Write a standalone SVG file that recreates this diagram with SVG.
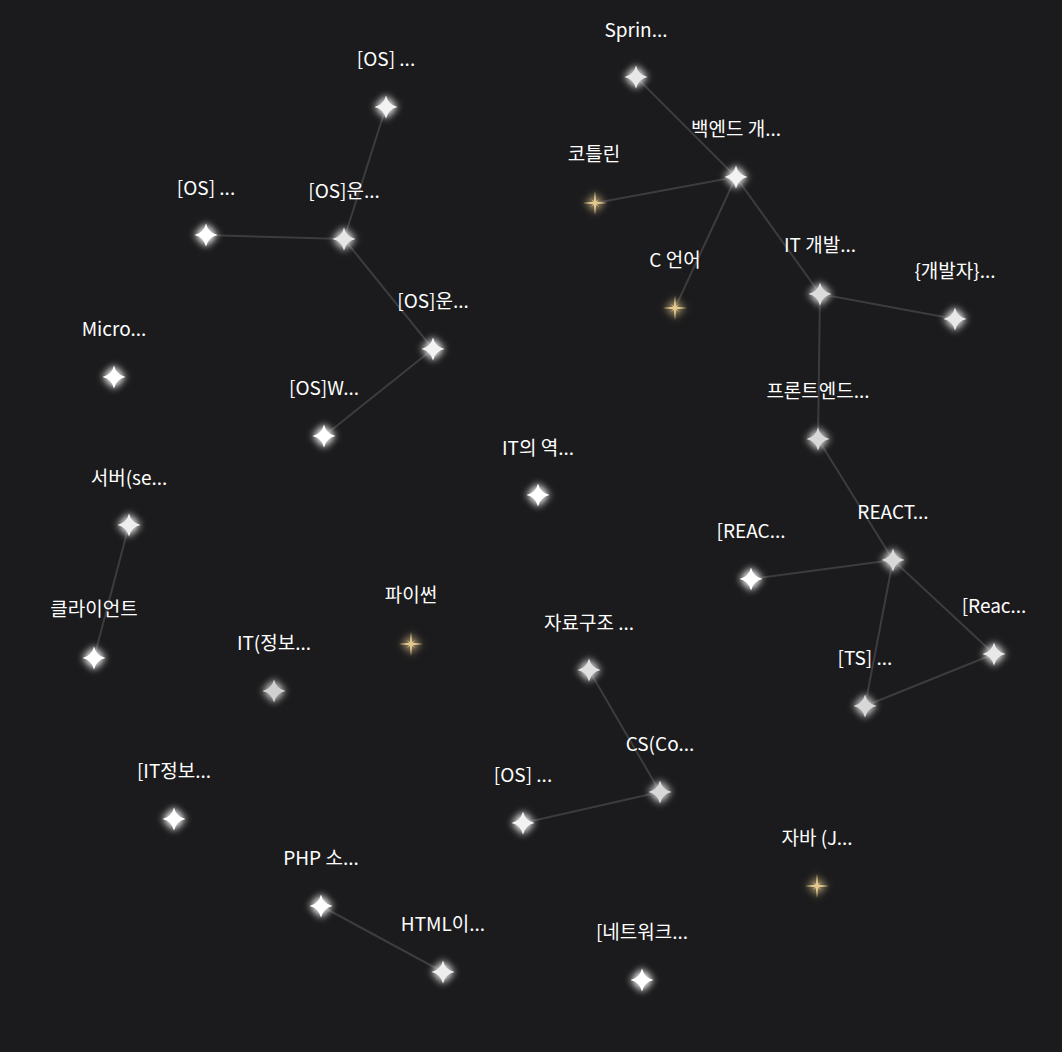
<svg xmlns="http://www.w3.org/2000/svg" width="1062" height="1052" viewBox="0 0 1062 1052">
<style>
.lbl{font-family:"Noto Sans CJK KR","Noto Sans",sans-serif;font-size:19px;fill:#ffffff;text-anchor:middle}
.edge{stroke:#3c3c3e;stroke-width:2;fill:none}
</style>
<defs>
<filter id="glow" x="-150%" y="-150%" width="400%" height="400%">
<feGaussianBlur in="SourceGraphic" stdDeviation="4.5" result="b"/>
<feMerge><feMergeNode in="b"/><feMergeNode in="b"/><feMergeNode in="SourceGraphic"/></feMerge>
</filter>
<filter id="gglow" x="-150%" y="-150%" width="400%" height="400%">
<feGaussianBlur in="SourceGraphic" stdDeviation="4" result="b"/>
<feMerge><feMergeNode in="b"/><feMergeNode in="b"/><feMergeNode in="SourceGraphic"/></feMerge>
</filter>
<path id="star" d="M0,-11.5 Q2.3,-2.3 11.5,0 Q2.3,2.3 0,11.5 Q-2.3,2.3 -11.5,0 Q-2.3,-2.3 0,-11.5 Z"/>
<path id="gstar" d="M0,-12 L1.2,-1.8 L4,-4 L1.8,-1.2 L12,0 L1.8,1.2 L4,4 L1.2,1.8 L0,12 L-1.2,1.8 L-4,4 L-1.8,1.2 L-12,0 L-1.8,-1.2 L-4,-4 L-1.2,-1.8 Z"/>
</defs>
<rect width="1062" height="1052" fill="#1b1b1d"/>
<g id="connectors">
<line class="edge" x1="636" y1="77" x2="736" y2="177"/>
<line class="edge" x1="736" y1="177" x2="595" y2="203"/>
<line class="edge" x1="736" y1="177" x2="675" y2="308"/>
<line class="edge" x1="736" y1="177" x2="820" y2="294"/>
<line class="edge" x1="820" y1="294" x2="955" y2="319"/>
<line class="edge" x1="820" y1="294" x2="818" y2="439"/>
<line class="edge" x1="818" y1="439" x2="893" y2="560"/>
<line class="edge" x1="893" y1="560" x2="751" y2="579"/>
<line class="edge" x1="893" y1="560" x2="994" y2="654"/>
<line class="edge" x1="893" y1="560" x2="865" y2="706"/>
<line class="edge" x1="865" y1="706" x2="994" y2="654"/>
<line class="edge" x1="386" y1="107" x2="344" y2="239"/>
<line class="edge" x1="206" y1="235" x2="344" y2="239"/>
<line class="edge" x1="344" y1="239" x2="433" y2="349"/>
<line class="edge" x1="433" y1="349" x2="324" y2="436"/>
<line class="edge" x1="129" y1="525" x2="94" y2="658"/>
<line class="edge" x1="589" y1="670" x2="660" y2="792"/>
<line class="edge" x1="660" y1="792" x2="523" y2="823"/>
<line class="edge" x1="321" y1="906" x2="443" y2="972"/>
</g>
<g id="n-spring"><use href="#star" x="636" y="77" fill="#e8e8e8" filter="url(#glow)"/><text class="lbl" x="636" y="37">Sprin...</text></g>
<g id="n-backend"><use href="#star" x="736" y="177" fill="#f2f2f2" filter="url(#glow)"/><text class="lbl" x="736" y="136">백엔드 개...</text></g>
<g id="n-kotlin"><use href="#gstar" x="595" y="203" fill="#e3c98f" filter="url(#gglow)"/><text class="lbl" x="594" y="161">코틀린</text></g>
<g id="n-c"><use href="#gstar" x="675" y="308" fill="#e3c98f" filter="url(#gglow)"/><text class="lbl" x="675" y="267">C 언어</text></g>
<g id="n-itdev"><use href="#star" x="820" y="294" fill="#dcdcdc" filter="url(#glow)"/><text class="lbl" x="820" y="252">IT 개발...</text></g>
<g id="n-devs"><use href="#star" x="955" y="319" fill="#e8e8e8" filter="url(#glow)"/><text class="lbl" x="955" y="278">{개발자}...</text></g>
<g id="n-frontend"><use href="#star" x="818" y="439" fill="#d8d8d8" filter="url(#glow)"/><text class="lbl" x="818" y="398">프론트엔드...</text></g>
<g id="n-react"><use href="#star" x="893" y="560" fill="#d8d8d8" filter="url(#glow)"/><text class="lbl" x="893" y="519">REACT...</text></g>
<g id="n-reac1"><use href="#star" x="751" y="579" fill="#ffffff" filter="url(#glow)"/><text class="lbl" x="751" y="538">[REAC...</text></g>
<g id="n-reac2"><use href="#star" x="994" y="654" fill="#e8e8e8" filter="url(#glow)"/><text class="lbl" x="994" y="613">[Reac...</text></g>
<g id="n-ts"><use href="#star" x="865" y="706" fill="#d8d8d8" filter="url(#glow)"/><text class="lbl" x="865" y="665">[TS] ...</text></g>
<g id="n-os-top"><use href="#star" x="386" y="107" fill="#f2f2f2" filter="url(#glow)"/><text class="lbl" x="386" y="66">[OS] ...</text></g>
<g id="n-os-un1"><use href="#star" x="344" y="239" fill="#e6e6e6" filter="url(#glow)"/><text class="lbl" x="344" y="198">[OS]운...</text></g>
<g id="n-os-left"><use href="#star" x="206" y="235" fill="#ffffff" filter="url(#glow)"/><text class="lbl" x="206" y="195">[OS] ...</text></g>
<g id="n-os-un2"><use href="#star" x="433" y="349" fill="#f2f2f2" filter="url(#glow)"/><text class="lbl" x="433" y="308">[OS]운...</text></g>
<g id="n-os-w"><use href="#star" x="324" y="436" fill="#ffffff" filter="url(#glow)"/><text class="lbl" x="324" y="395">[OS]W...</text></g>
<g id="n-micro"><use href="#star" x="114" y="377" fill="#ffffff" filter="url(#glow)"/><text class="lbl" x="114" y="336">Micro...</text></g>
<g id="n-it-history"><use href="#star" x="538" y="495" fill="#ffffff" filter="url(#glow)"/><text class="lbl" x="538" y="455">IT의 역...</text></g>
<g id="n-server"><use href="#star" x="129" y="525" fill="#eeeeee" filter="url(#glow)"/><text class="lbl" x="129" y="485">서버(se...</text></g>
<g id="n-client"><use href="#star" x="94" y="658" fill="#ffffff" filter="url(#glow)"/><text class="lbl" x="94" y="616">클라이언트</text></g>
<g id="n-python"><use href="#gstar" x="411" y="644" fill="#e3c98f" filter="url(#gglow)"/><text class="lbl" x="411" y="602">파이썬</text></g>
<g id="n-it-info"><use href="#star" x="274" y="691" fill="#d0d0d0" filter="url(#glow)"/><text class="lbl" x="274" y="650">IT(정보...</text></g>
<g id="n-ds"><use href="#star" x="589" y="670" fill="#e0e0e0" filter="url(#glow)"/><text class="lbl" x="589" y="630">자료구조 ...</text></g>
<g id="n-cs"><use href="#star" x="660" y="792" fill="#d8d8d8" filter="url(#glow)"/><text class="lbl" x="660" y="751">CS(Co...</text></g>
<g id="n-os-bottom"><use href="#star" x="523" y="823" fill="#f2f2f2" filter="url(#glow)"/><text class="lbl" x="523" y="782">[OS] ...</text></g>
<g id="n-itinfo2"><use href="#star" x="174" y="819" fill="#ffffff" filter="url(#glow)"/><text class="lbl" x="174" y="778">[IT정보...</text></g>
<g id="n-php"><use href="#star" x="321" y="906" fill="#ffffff" filter="url(#glow)"/><text class="lbl" x="321" y="865">PHP 소...</text></g>
<g id="n-html"><use href="#star" x="443" y="972" fill="#eeeeee" filter="url(#glow)"/><text class="lbl" x="443" y="931">HTML이...</text></g>
<g id="n-network"><use href="#star" x="642" y="980" fill="#ffffff" filter="url(#glow)"/><text class="lbl" x="642" y="939">[네트워크...</text></g>
<g id="n-java"><use href="#gstar" x="817" y="886" fill="#e3c98f" filter="url(#gglow)"/><text class="lbl" x="817" y="845">자바 (J...</text></g>
</svg>
